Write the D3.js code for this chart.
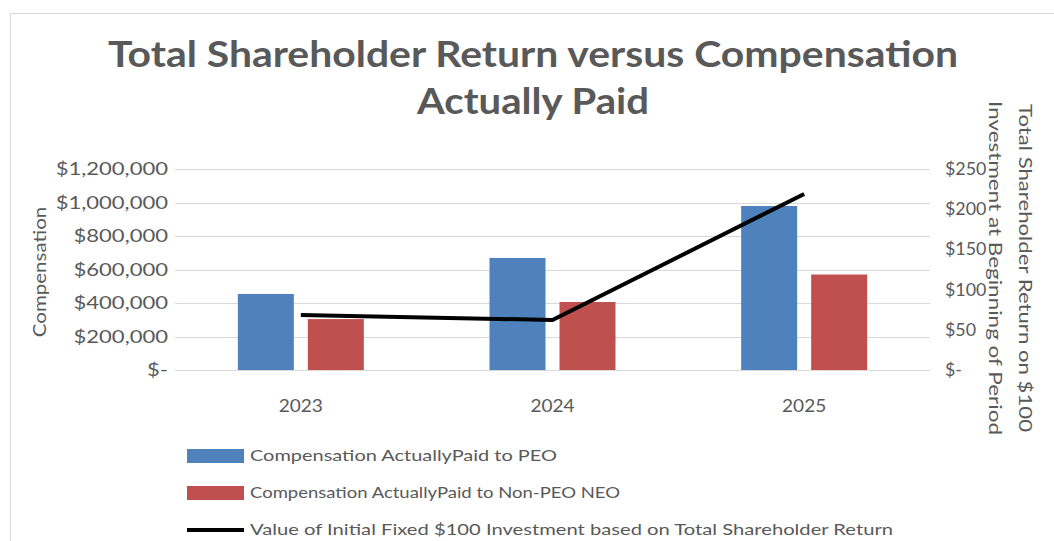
<!DOCTYPE html>
<html>
<head>
<meta charset="utf-8">
<script src="https://cdn.jsdelivr.net/npm/d3@7"></script>
<style>
  body { margin: 0; background: #fff; }
  svg { display: block; font-family: Lato, "Open Sans", sans-serif; }
</style>
</head>
<body>
<div id="chart"></div>
<script>
// data
const years = ["2023", "2024", "2025"];
const peoComp = [454000, 669000, 979000];
const neoComp = [304000, 406000, 570000];
const tsrValue = [68.4, 62.2, 219];
const leftTicks = [0, 200000, 400000, 600000, 800000, 1000000, 1200000];
const rightTicks = [0, 50, 100, 150, 200, 250];
const seriesNames = [
  "Compensation ActuallyPaid to PEO",
  "Compensation ActuallyPaid to Non-PEO NEO",
  "Value of Initial Fixed $100 Investment based on Total Shareholder Return"
];
const titleLines = ["Total Shareholder Return versus Compensation", "Actually Paid"];
const rightTitle = ["Total Shareholder Return on $100", "Investment at Beginning of Period"];

const width = 1054, height = 541;
const plot = { left: 175, right: 930, top: 169, bottom: 370 };
const textColor = "#595959";
const colors = ["#4F81BD", "#C0504D"];

// the source font is wider than Lato, so stretch text a bit horizontally
function widen(sel, k) {
  sel.each(function() {
    const len = this.getComputedTextLength();
    d3.select(this)
      .attr("textLength", len * k)
      .attr("lengthAdjust", "spacingAndGlyphs");
  });
}

const svg = d3.select("#chart").append("svg")
  .attr("width", width)
  .attr("height", height);

// chart area frame
svg.append("path")
  .attr("d", `M10.5,${height} V13.5 H${width}`)
  .attr("fill", "none")
  .attr("stroke", "#d9d9d9");

// title
svg.append("g")
  .attr("fill", textColor)
  .attr("font-weight", "bold")
  .attr("font-size", 36)
  .attr("text-anchor", "middle")
  .selectAll("text")
  .data(titleLines)
  .join("text")
  .attr("x", 533)
  .attr("y", (d, i) => 67 + i * 47)
  .attr("textLength", (d, i) => i === 0 ? 850 : 232)
  .attr("lengthAdjust", "spacingAndGlyphs")
  .text(d => d);

const x = d3.scaleBand().domain(years).range([plot.left, plot.right]);
const x1 = d3.scaleBand().domain([0, 1]).range([0, 126]).paddingInner(0.2);
const y = d3.scaleLinear().domain([0, 1200000]).range([plot.bottom, plot.top]);
const y2 = d3.scaleLinear().domain([0, 250]).range([plot.bottom, plot.top]);

const fmtLeft = v => v === 0 ? "$-" : "$" + d3.format(",")(v);
const fmtRight = v => v === 0 ? "$-" : "$" + v;

// gridlines
svg.append("g")
  .attr("stroke", "#d9d9d9")
  .selectAll("line")
  .data(leftTicks)
  .join("line")
  .attr("x1", plot.left)
  .attr("x2", plot.right)
  .attr("y1", d => Math.round(y(d)) + 0.5)
  .attr("y2", d => Math.round(y(d)) + 0.5);

// left axis
const leftAxis = svg.append("g")
  .attr("transform", `translate(${plot.left - 7},0)`)
  .call(d3.axisLeft(y).tickValues(leftTicks).tickFormat(fmtLeft).tickSize(0).tickPadding(0));
leftAxis.select(".domain").remove();
leftAxis.selectAll("text")
  .attr("fill", textColor)
  .attr("font-size", 17.5)
  .attr("font-family", "Lato, sans-serif")
  .call(widen, 1.26);

// right axis
const rightAxis = svg.append("g")
  .attr("transform", `translate(945,0)`)
  .call(d3.axisRight(y2).tickValues(rightTicks).tickFormat(fmtRight).tickSize(0).tickPadding(0));
rightAxis.select(".domain").remove();
rightAxis.selectAll("text")
  .attr("fill", textColor)
  .attr("font-size", 17)
  .attr("font-family", "Lato, sans-serif")
  .call(widen, 1.05);

// bottom axis labels
const bottomAxis = svg.append("g")
  .attr("transform", `translate(0,${plot.bottom + 30})`)
  .call(d3.axisBottom(x).tickSize(0).tickPadding(0));
bottomAxis.select(".domain").remove();
bottomAxis.selectAll("text")
  .attr("fill", textColor)
  .attr("font-size", 17)
  .attr("font-family", "Lato, sans-serif")
  .call(widen, 1.12);

// bars
const groups = svg.append("g")
  .selectAll("g")
  .data(years)
  .join("g")
  .attr("transform", d => `translate(${x(d) + (x.bandwidth() - 126) / 2},0)`);

groups.selectAll("rect")
  .data((d, i) => [peoComp[i], neoComp[i]])
  .join("rect")
  .attr("x", (d, j) => x1(j))
  .attr("width", x1.bandwidth())
  .attr("y", d => y(d))
  .attr("height", d => y(0) - y(d))
  .attr("fill", (d, j) => colors[j]);

// TSR line
const line = d3.line()
  .x((d, i) => x(years[i]) + x.bandwidth() / 2)
  .y(d => y2(d));

svg.append("path")
  .datum(tsrValue)
  .attr("fill", "none")
  .attr("stroke", "#000")
  .attr("stroke-width", 4)
  .attr("d", line);

// axis titles
svg.append("text")
  .attr("transform", "translate(46,272) rotate(-90)")
  .attr("text-anchor", "middle")
  .attr("fill", textColor)
  .attr("font-size", 18)
  .text("Compensation")
  .call(widen, 1.14);

svg.append("text")
  .attr("transform", "translate(1010,268) rotate(90)")
  .attr("text-anchor", "middle")
  .attr("fill", textColor)
  .attr("font-size", 17.5)
  .selectAll("tspan")
  .data(rightTitle)
  .join("tspan")
  .attr("x", 0)
  .attr("y", (d, i) => i === 0 ? -9 : 21)
  .attr("textLength", (d, i) => i === 0 ? 328 : 334)
  .attr("lengthAdjust", "spacingAndGlyphs")
  .text(d => d);

// legend
const legend = svg.append("g")
  .attr("transform", "translate(187,0)");
const legendRows = legend.selectAll("g")
  .data(seriesNames)
  .join("g")
  .attr("transform", (d, i) => `translate(0,${456 + i * 37})`);

legendRows.filter((d, i) => i < 2)
  .append("rect")
  .attr("x", 0)
  .attr("y", -7)
  .attr("width", 57)
  .attr("height", 14)
  .attr("fill", (d, i) => colors[i]);

legendRows.filter((d, i) => i === 2)
  .append("line")
  .attr("x1", 0)
  .attr("x2", 57)
  .attr("stroke", "#000")
  .attr("stroke-width", 4);

legendRows.append("text")
  .attr("x", 63)
  .attr("dy", "0.33em")
  .attr("fill", textColor)
  .attr("font-size", 16)
  .attr("textLength", (d, i) => [307, 370, 643][i])
  .attr("lengthAdjust", "spacingAndGlyphs")
  .text(d => d);
</script>
</body>
</html>
